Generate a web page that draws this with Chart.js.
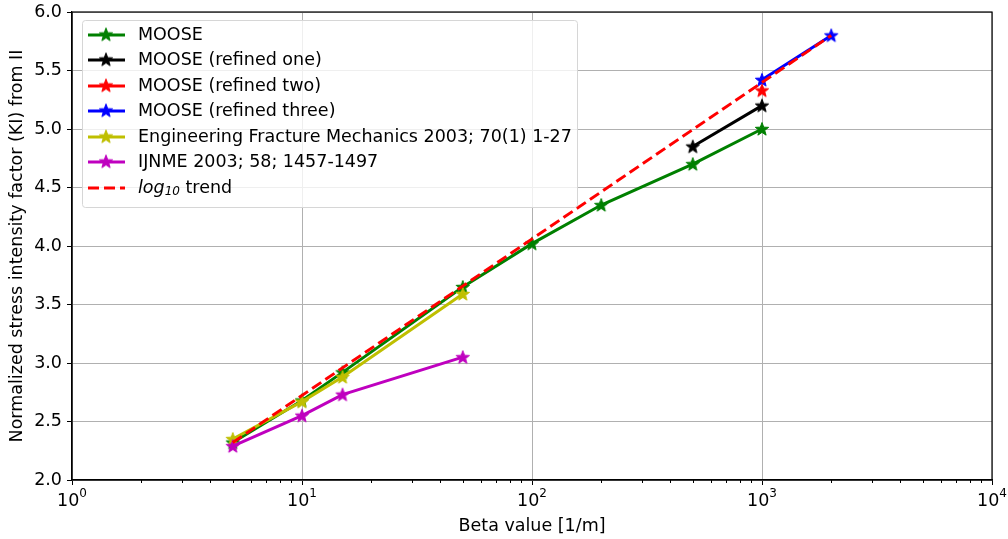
<!DOCTYPE html>
<html lang="en">
<head>
    <meta charset="UTF-8">
    <title>Normalized stress intensity factor vs beta</title>
    <script src="https://cdn.jsdelivr.net/npm/chart.js"></script>
    <style>
        body { margin: 0; background: #fff; }
        canvas { display: block; }
    </style>
</head>
<body>
    <canvas id="kiChart" width="1008" height="539"></canvas>

    <script>
        // values
        const mooseBeta = [5, 10, 15, 50, 100, 200, 500, 1000];
        const mooseK = [2.32, 2.68, 2.92, 3.65, 4.02, 4.35, 4.70, 5.00];
        const refinedOneBeta = [500, 1000];
        const refinedOneK = [4.85, 5.20];
        const refinedTwoBeta = [1000];
        const refinedTwoK = [5.33];
        const refinedThreeBeta = [1000, 2000];
        const refinedThreeK = [5.42, 5.80];
        const efmBeta = [5, 10, 15, 50];
        const efmK = [2.35, 2.67, 2.88, 3.59];
        const ijnmeBeta = [5, 10, 15, 50];
        const ijnmeK = [2.29, 2.55, 2.73, 3.05];
        const trendBeta = [5, 2000];
        const trendK = [2.32, 5.80];

        const xTicks = [1, 10, 100, 1000, 10000];
        const yTicks = [2.0, 2.5, 3.0, 3.5, 4.0, 4.5, 5.0, 5.5, 6.0];

        const FONT = '"DejaVu Sans"';

        function pts(xs, ys) {
            return xs.map((x, i) => ({ x: x, y: ys[i] }));
        }

        function starMarker(color) {
            const c = document.createElement('canvas');
            c.width = 16; c.height = 16;
            const g = c.getContext('2d');
            const R = 7, r = 2.9;
            g.beginPath();
            for (let i = 0; i < 10; i++) {
                const rad = i % 2 === 0 ? R : r;
                const a = -Math.PI / 2 + i * Math.PI / 5;
                const px = 8 + rad * Math.cos(a), py = 8.5 + rad * Math.sin(a);
                if (i === 0) g.moveTo(px, py); else g.lineTo(px, py);
            }
            g.closePath();
            g.fillStyle = color;
            g.fill();
            g.lineWidth = 1;
            g.strokeStyle = color;
            g.stroke();
            return c;
        }

        const series = [
            { label: 'MOOSE', data: pts(mooseBeta, mooseK), color: 'green' },
            { label: 'MOOSE (refined one)', data: pts(refinedOneBeta, refinedOneK), color: 'black' },
            { label: 'MOOSE (refined two)', data: pts(refinedTwoBeta, refinedTwoK), color: 'red' },
            { label: 'MOOSE (refined three)', data: pts(refinedThreeBeta, refinedThreeK), color: 'blue' },
            { label: 'Engineering Fracture Mechanics 2003; 70(1) 1-27', data: pts(efmBeta, efmK), color: '#bfbf00' },
            { label: 'IJNME 2003; 58; 1457-1497', data: pts(ijnmeBeta, ijnmeK), color: '#bf00bf' },
        ];

        const datasets = series.map((s, i) => ({
            label: s.label,
            data: s.data,
            borderColor: s.color,
            backgroundColor: s.color,
            borderWidth: 3,
            pointStyle: starMarker(s.color),
            pointRadius: 7,
            tension: 0,
            order: 10 - i,
        }));
        datasets.push({
            label: 'log10 trend',
            data: pts(trendBeta, trendK),
            borderColor: 'red',
            backgroundColor: 'red',
            borderWidth: 3,
            borderDash: [11, 5],
            pointRadius: 0,
            order: 0,
        });

        // frame, minor log ticks, 10^n labels and a matplotlib style legend
        const extras = {
            id: 'extras',
            afterDatasetsDraw(chart) {
                const ctx = chart.ctx;
                const a = chart.chartArea;
                const xs = chart.scales.x;
                ctx.save();

                ctx.strokeStyle = '#000';
                ctx.lineWidth = 1;
                for (let d = 1; d < 10000; d *= 10) {
                    for (let m = 2; m <= 9; m++) {
                        const px = Math.round(xs.getPixelForValue(d * m)) + 0.5;
                        ctx.beginPath();
                        ctx.moveTo(px, a.bottom);
                        ctx.lineTo(px, a.bottom + 3);
                        ctx.stroke();
                    }
                }
                ctx.lineWidth = 1.2;
                ctx.strokeRect(a.left, a.top, a.right - a.left, a.bottom - a.top);

                // x tick labels as 10 with a raised exponent
                ctx.fillStyle = '#000';
                ctx.textBaseline = 'alphabetic';
                ctx.textAlign = 'left';
                xTicks.forEach(v => {
                    const px = xs.getPixelForValue(v);
                    const e = String(Math.round(Math.log10(v)));
                    ctx.font = '17.5px ' + FONT;
                    const w1 = ctx.measureText('10').width;
                    ctx.font = '12px ' + FONT;
                    const w2 = ctx.measureText(e).width;
                    const x0 = px - (w1 + w2) / 2;
                    ctx.font = '17.5px ' + FONT;
                    ctx.fillText('10', x0, 506);
                    ctx.font = '12px ' + FONT;
                    ctx.fillText(e, x0 + w1, 497);
                });

                // legend box
                const bx = 82, by = 20, bw = 495, bh = 187;
                ctx.beginPath();
                ctx.roundRect(bx + 0.5, by + 0.5, bw, bh, 3);
                ctx.fillStyle = 'rgba(255,255,255,0.8)';
                ctx.fill();
                ctx.strokeStyle = '#d6d6d6';
                ctx.lineWidth = 1;
                ctx.stroke();

                ctx.font = '17.5px ' + FONT;
                ctx.textBaseline = 'middle';
                const rowY = [35, 60, 86, 111, 137, 162, 188];
                chart.data.datasets.forEach((ds, i) => {
                    const y = rowY[i];
                    ctx.strokeStyle = ds.borderColor;
                    ctx.lineWidth = 3;
                    ctx.setLineDash(ds.borderDash || []);
                    ctx.beginPath();
                    ctx.moveTo(88, y);
                    ctx.lineTo(125, y);
                    ctx.stroke();
                    ctx.setLineDash([]);
                    if (ds.pointRadius) ctx.drawImage(ds.pointStyle, 98, y - 8.5);
                    ctx.fillStyle = '#000';
                    if (i < series.length) {
                        ctx.fillText(ds.label, 138, y);
                    } else {
                        ctx.font = 'italic 17.5px ' + FONT;
                        ctx.fillText('log', 138, y);
                        let w = ctx.measureText('log').width;
                        ctx.font = 'italic 12px ' + FONT;
                        ctx.fillText('10', 138 + w, y + 4);
                        w += ctx.measureText('10').width;
                        ctx.font = '17.5px ' + FONT;
                        ctx.fillText(' trend', 138 + w, y);
                    }
                });
                ctx.restore();
            }
        };

        Chart.defaults.font.family = FONT;
        Chart.defaults.font.size = 17.5;
        Chart.defaults.color = '#000';

        new Chart(document.getElementById('kiChart').getContext('2d'), {
            type: 'line',
            data: { datasets: datasets },
            options: {
                responsive: false,
                animation: false,
                layout: { padding: { top: 12, right: 16, left: 0, bottom: 0 } },
                plugins: { legend: { display: false }, tooltip: { enabled: false } },
                scales: {
                    x: {
                        type: 'logarithmic',
                        min: 1,
                        max: 10000,
                        afterBuildTicks: (scale) => {
                            scale.ticks = xTicks.map(v => ({ value: v, major: true }));
                        },
                        afterFit: (scale) => {
                            scale.height = 59;
                            scale.paddingLeft = 0;
                            scale.paddingRight = 0;
                        },
                        ticks: {
                            autoSkip: false,
                            maxRotation: 0,
                            color: 'rgba(0,0,0,0)',
                            callback: () => '',
                        },
                        grid: { color: '#b0b0b0', tickColor: '#000', tickLength: 5, lineWidth: 1 },
                        border: { color: '#000', width: 1.2 },
                        title: { display: true, text: 'Beta value [1/m]', padding: { top: 0, bottom: 2 } },
                    },
                    y: {
                        type: 'linear',
                        min: 2,
                        max: 6,
                        afterBuildTicks: (scale) => {
                            scale.ticks = yTicks.map(v => ({ value: v }));
                        },
                        afterFit: (scale) => {
                            scale.width = 72;
                            scale.paddingTop = 0;
                            scale.paddingBottom = 0;
                        },
                        ticks: { padding: 5, callback: (v) => Number(v).toFixed(1) },
                        grid: { color: '#b0b0b0', tickColor: '#000', tickLength: 5, lineWidth: 1 },
                        border: { color: '#000', width: 1.2 },
                        title: { display: true, text: 'Normalized stress intensity factor (KI) from II', padding: { top: 7, bottom: 0 } },
                    }
                }
            },
            plugins: [extras]
        });
    </script>
</body>
</html>
